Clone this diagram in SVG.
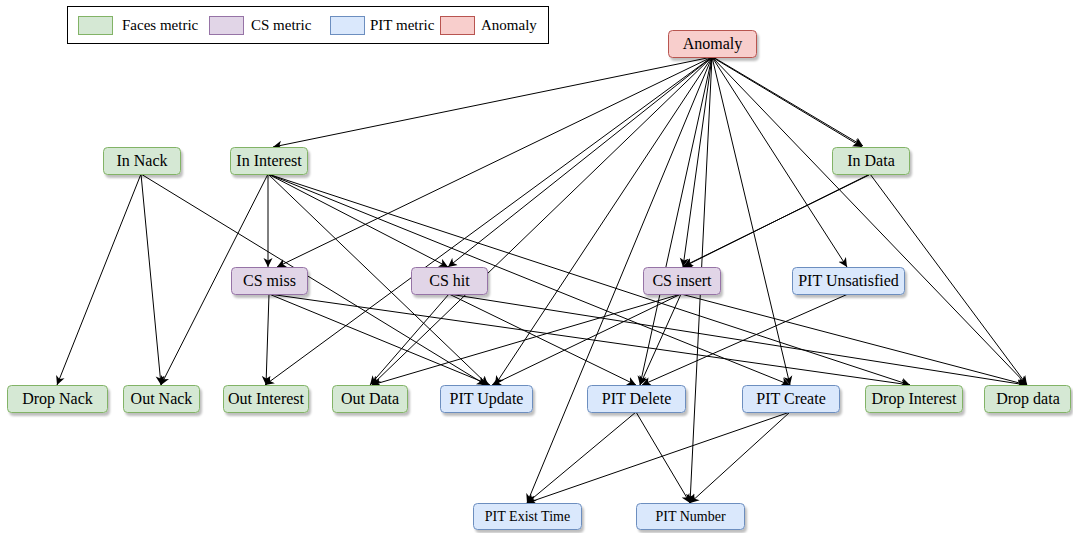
<svg xmlns="http://www.w3.org/2000/svg" width="1073" height="533" viewBox="0 0 1073 533">
<defs>
<filter id="sh" x="-10%" y="-20%" width="130%" height="160%">
<feDropShadow dx="2" dy="3" stdDeviation="1" flood-color="#000" flood-opacity="0.25"/>
</filter>
<marker id="ar" markerUnits="userSpaceOnUse" markerWidth="10" markerHeight="10" refX="9" refY="4.5" orient="auto" viewBox="0 0 10 9">
<path d="M0,0 L9,4.5 L0,9 L2.5,4.5 Z" fill="#000"/>
</marker>
<style>
.g{fill:#d5e8d4;stroke:#82b366}
.p{fill:#e1d5e7;stroke:#9673a6}
.b{fill:#dae8fc;stroke:#6c8ebf}
.r{fill:#f8cecc;stroke:#b85450}
.n{filter:url(#sh);stroke-width:1}
.t{font-family:"Liberation Serif","Times New Roman",serif;font-size:16px;fill:#000;text-anchor:middle}
.ts{font-size:14px}
.lt{font-family:"Liberation Serif","Times New Roman",serif;font-size:15px;fill:#000}
#edges path{fill:none;stroke:#000;stroke-width:1;marker-end:url(#ar)}
</style>
</defs>
<rect width="1073" height="533" fill="#fff"/>
<g id="legend">
<rect x="67.5" y="6.5" width="481" height="37" fill="#fff" stroke="#000"/>
<rect x="78.5" y="16.5" width="34" height="18" class="g"/>
<text x="122" y="30" class="lt">Faces metric</text>
<rect x="209.5" y="16.5" width="34" height="18" class="p"/>
<text x="251" y="30" class="lt">CS metric</text>
<rect x="330.5" y="16.5" width="34" height="18" class="b"/>
<text x="370" y="30" class="lt">PIT metric</text>
<rect x="440.5" y="16.5" width="34" height="18" class="r"/>
<text x="481" y="30" class="lt">Anomaly</text>
</g>
<g id="edges">
<path d="M712,57 L273,147"/>
<path d="M712,57 L862,147"/>
<path d="M713,57 L863,146"/>
<path d="M712,57 L277,267"/>
<path d="M712,57 L265,385"/>
<path d="M712,57 L448,267"/>
<path d="M712,57 L372,385"/>
<path d="M712,57 L495,385"/>
<path d="M712,57 L527,503"/>
<path d="M712,57 L683,267"/>
<path d="M712,57 L640,385"/>
<path d="M712,57 L690,503"/>
<path d="M712,57 L790,385"/>
<path d="M712,57 L847,267"/>
<path d="M712,57 L1027,385"/>
<path d="M141,174 L57,385"/>
<path d="M141,174 L161,385"/>
<path d="M141,174 L486,385"/>
<path d="M268,174 L161,385"/>
<path d="M268,174 L268,267"/>
<path d="M268,174 L488,385"/>
<path d="M268,174 L448,267"/>
<path d="M268,174 L790,385"/>
<path d="M268,174 L910,385"/>
<path d="M870,174 L683,267"/>
<path d="M869,175 L684,266"/>
<path d="M870,174 L1027,385"/>
<path d="M269,294 L266,385"/>
<path d="M269,294 L490,385"/>
<path d="M269,294 L910,385"/>
<path d="M449,294 L370,385"/>
<path d="M449,294 L636,385"/>
<path d="M449,294 L1026,385"/>
<path d="M681,294 L372,385"/>
<path d="M681,294 L492,385"/>
<path d="M681,294 L640,385"/>
<path d="M681,294 L1027,385"/>
<path d="M848,294 L642,385"/>
<path d="M636,412 L527,503"/>
<path d="M636,412 L690,503"/>
<path d="M790,412 L527,503"/>
<path d="M790,412 L690,503"/>
</g>
<g id="anomaly"><rect x="668.5" y="30.5" width="88" height="27" rx="4" class="n r"/><text x="712.5" y="49" class="t">Anomaly</text></g>
<g id="in-nack"><rect x="103.5" y="147.5" width="77" height="27" rx="4" class="n g"/><text x="142" y="166" class="t">In Nack</text></g>
<g id="in-interest"><rect x="230.5" y="147.5" width="77" height="27" rx="4" class="n g"/><text x="269" y="166" class="t">In Interest</text></g>
<g id="in-data"><rect x="832.5" y="147.5" width="77" height="27" rx="4" class="n g"/><text x="871" y="166" class="t">In Data</text></g>
<g id="cs-miss"><rect x="231.5" y="267.5" width="76" height="27" rx="4" class="n p"/><text x="269.5" y="286" class="t">CS miss</text></g>
<g id="cs-hit"><rect x="411.5" y="267.5" width="76" height="27" rx="4" class="n p"/><text x="449.5" y="286" class="t">CS hit</text></g>
<g id="cs-insert"><rect x="643.5" y="267.5" width="77" height="27" rx="4" class="n p"/><text x="682" y="286" class="t">CS insert</text></g>
<g id="pit-unsatisfied"><rect x="792.5" y="267.5" width="112" height="27" rx="4" class="n b"/><text x="848.5" y="286" class="t">PIT Unsatisfied</text></g>
<g id="drop-nack"><rect x="7.5" y="385.5" width="100" height="27" rx="4" class="n g"/><text x="57.5" y="404" class="t">Drop Nack</text></g>
<g id="out-nack"><rect x="123.5" y="385.5" width="76" height="27" rx="4" class="n g"/><text x="161.5" y="404" class="t">Out Nack</text></g>
<g id="out-interest"><rect x="223.5" y="385.5" width="85" height="27" rx="4" class="n g"/><text x="266" y="404" class="t">Out Interest</text></g>
<g id="out-data"><rect x="332.5" y="385.5" width="75" height="27" rx="4" class="n g"/><text x="370" y="404" class="t">Out Data</text></g>
<g id="pit-update"><rect x="440.5" y="385.5" width="92" height="27" rx="4" class="n b"/><text x="486.5" y="404" class="t">PIT Update</text></g>
<g id="pit-delete"><rect x="587.5" y="385.5" width="98" height="27" rx="4" class="n b"/><text x="636.5" y="404" class="t">PIT Delete</text></g>
<g id="pit-create"><rect x="742.5" y="385.5" width="97" height="27" rx="4" class="n b"/><text x="791" y="404" class="t">PIT Create</text></g>
<g id="drop-interest"><rect x="865.5" y="385.5" width="97" height="27" rx="4" class="n g"/><text x="914" y="404" class="t">Drop Interest</text></g>
<g id="drop-data"><rect x="984.5" y="385.5" width="86" height="27" rx="4" class="n g"/><text x="1028" y="404" class="t">Drop data</text></g>
<g id="pit-exist-time"><rect x="473.5" y="503.5" width="108" height="26" rx="4" class="n b"/><text x="527.5" y="521" class="t ts">PIT Exist Time</text></g>
<g id="pit-number"><rect x="636.5" y="503.5" width="108" height="26" rx="4" class="n b"/><text x="690.5" y="521" class="t ts">PIT Number</text></g>
</svg>
